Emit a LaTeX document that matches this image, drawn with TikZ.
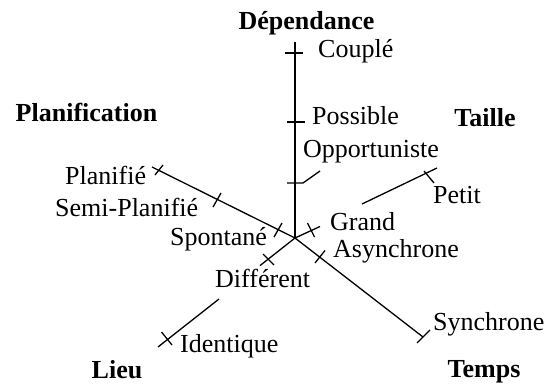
\documentclass[tikz,border=0pt]{standalone}
\usepackage{fontspec}
\setmainfont{Liberation Serif}
\begin{document}
\begin{tikzpicture}[x=1pt,y=-1pt,
  lbl/.style={inner sep=0pt, anchor=base west, font=\fontsize{26}{30}\selectfont},
  ttl/.style={inner sep=0pt, anchor=base, font=\fontsize{26}{30}\selectfont\bfseries},
  axisline/.style={draw, line width=1.3pt},
  tickline/.style={draw, line width=1.3pt}]
\useasboundingbox (0,0) rectangle (552,385);
% axis points
\coordinate (O) at (295,238);
\coordinate (Dtop) at (295,42);
\coordinate (Pend) at (152,167);
\coordinate (Tend) at (423,337);
\coordinate (L1) at (260,265.6);
\coordinate (L2) at (219,299);
\coordinate (Lend) at (158,347);
\coordinate (S1) at (320,226.5);
\coordinate (S2) at (362,204);
\coordinate (Send) at (437,168);
% axes
\draw[axisline] (Dtop) -- (O);
\draw[axisline] (Pend) -- (O);
\draw[axisline] (O) -- (Tend);
\draw[axisline] (O) -- (L1);
\draw[axisline] (L2) -- (Lend);
\draw[axisline] (O) -- (S1);
\draw[axisline] (S2) -- (Send);
% ticks
\coordinate (tc1) at (285,53);  \coordinate (tc2) at (303,53);
\coordinate (tp1) at (287,122); \coordinate (tp2) at (305,122);
\coordinate (to1) at (287,183); \coordinate (to2) at (303,183); \coordinate (to3) at (320,171);
\coordinate (tpl1) at (155,175); \coordinate (tpl2) at (163,165);
\coordinate (tsp1) at (213,207); \coordinate (tsp2) at (221,193);
\coordinate (tsn1) at (274,237); \coordinate (tsn2) at (282,223);
\coordinate (tg1) at (307.5,223); \coordinate (tg2) at (314.5,237);
\coordinate (tdi1) at (263,254); \coordinate (tdi2) at (274,265);
\coordinate (tas1) at (315,263); \coordinate (tas2) at (325,250.5);
\coordinate (tsy1) at (417,343); \coordinate (tsy2) at (430,330);
\coordinate (tid1) at (161.5,332); \coordinate (tid2) at (172,345);
\coordinate (tpe1) at (424,171); \coordinate (tpe2) at (434,183);
\draw[tickline] (tc1) -- (tc2);
\draw[tickline] (tp1) -- (tp2);
\draw[tickline] (to1) -- (to2) -- (to3);
\draw[tickline] (tpl1) -- (tpl2);
\draw[tickline] (tsp1) -- (tsp2);
\draw[tickline] (tsn1) -- (tsn2);
\draw[tickline] (tg1) -- (tg2);
\draw[tickline] (tdi1) -- (tdi2);
\draw[tickline] (tas1) -- (tas2);
\draw[tickline] (tsy1) -- (tsy2);
\draw[tickline] (tid1) -- (tid2);
\draw[tickline] (tpe1) -- (tpe2);
% titles
\node[ttl] (dep) at (306.5,30) {Dépendance};
\node[ttl] (pla) at (86.5,122) {Planification};
\node[ttl] (tai) at (485,127) {Taille};
\node[ttl] (lie) at (117,378) {Lieu};
\node[ttl] (tem) at (484,377) {Temps};
% labels
\node[lbl] (cou) at (318,58) {Couplé};
\node[lbl] (pos) at (312,125) {Possible};
\node[lbl] (opp) at (303,158) {Opportuniste};
\node[lbl] (plf) at (65,185) {Planifié};
\node[lbl] (sem) at (55,217) {Semi-Planifié};
\node[lbl] (spo) at (170,245) {Spontané};
\node[lbl] (gra) at (330,230) {Grand};
\node[lbl] (asy) at (333,258) {Asynchrone};
\node[lbl] (pet) at (433,204) {Petit};
\node[lbl] (dif) at (215,287) {Différent};
\node[lbl] (ide) at (180,352) {Identique};
\node[lbl] (syn) at (433,330) {Synchrone};
\end{tikzpicture}
\end{document}
